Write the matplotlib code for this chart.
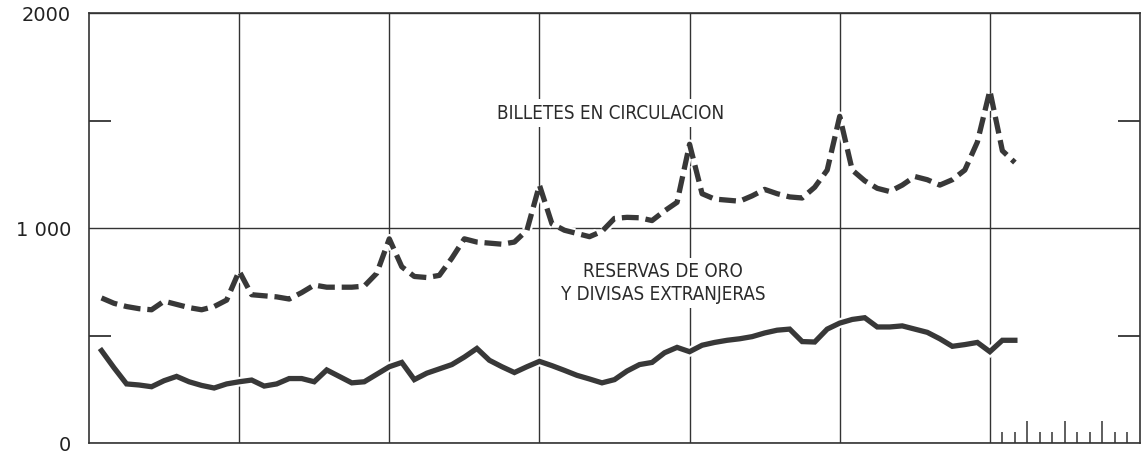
import numpy as np
import matplotlib
matplotlib.use("Agg")
import matplotlib.pyplot as plt
import matplotlib.patheffects as pe

# monthly values, months 1..74 (x axis in months, 7 years shown)
months = np.arange(1, 75)

billetes = [675, 650, 635, 625, 620, 660, 645, 630, 620, 635, 665, 800,
            690, 685, 680, 670, 700, 735, 725, 725, 725, 730, 790, 950,
            820, 775, 770, 780, 860, 950, 935, 930, 925, 935, 990, 1200,
            1020, 990, 975, 960, 985, 1045, 1050, 1048, 1035, 1080, 1120, 1390,
            1160, 1135, 1130, 1125, 1150, 1180, 1160, 1145, 1140, 1190, 1270, 1520,
            1270, 1220, 1185, 1170, 1200, 1240, 1225, 1200, 1225, 1270, 1400, 1640,
            1360, 1305]

reservas = [430, 350, 275, 270, 262, 290, 310, 285, 268, 256, 275, 285,
            293, 265, 275, 300, 300, 285, 340, 310, 280, 285, 320, 355,
            375, 295, 325, 345, 365, 400, 440, 385, 355, 328, 355, 380,
            360, 338, 315, 298, 280, 295, 335, 365, 375, 420, 445, 425,
            455, 468, 478, 485, 495, 512, 525, 530, 472, 470, 530, 558,
            575, 583, 540, 540, 545, 530, 515, 485, 450, 458, 468, 425,
            478, 478]

year_ends = [12, 24, 36, 48, 60, 72]
y_labels = ["0", "1 000", "2000"]
month_ticks = [73, 74, 76, 77, 79, 80, 82, 83]
quarter_ticks = [75, 78, 81]

ink = "#383838"
halo = [pe.withStroke(linewidth=7, foreground="white")]

fig = plt.figure(figsize=(11.44, 4.53), dpi=100)
ax = fig.add_axes([0.0778, 0.022, 0.9187, 0.949])

ax.plot(months, billetes, color=ink, lw=3.8, dashes=(3.2, 1.3),
        path_effects=halo, zorder=3)
ax.plot(months, reservas, color=ink, lw=3.8, solid_joinstyle="miter",
        path_effects=halo, zorder=3)

ax.set_xlim(0, 84)
ax.set_ylim(0, 2000)

ax.set_xticks(year_ends)
ax.set_xticks(month_ticks, minor=True)
ax.tick_params(axis="x", which="major", length=0, labelbottom=False)
ax.tick_params(axis="x", which="minor", direction="in", length=8,
               width=1.1, color="#333333")
sec = ax.secondary_xaxis("bottom")
sec.set_xticks(quarter_ticks)
sec.tick_params(direction="in", length=16, width=1.1, color="#333333",
                labelbottom=False)
sec.spines["bottom"].set_visible(False)

ax.set_yticks([0, 1000, 2000])
ax.set_yticklabels(y_labels)
ax.set_yticks([500, 1500], minor=True)
ax.tick_params(axis="y", which="major", length=0, pad=13, labelsize=14,
               labelcolor="#222222")
ax.tick_params(axis="y", which="minor", direction="in", length=16,
               width=1.3, left=True, right=True, color="#333333")

ax.grid(True, which="major", color="#333333", lw=1.0)
ax.set_axisbelow(True)
for s in ax.spines.values():
    s.set_color("#333333")
    s.set_linewidth(1.2)

lab_font = dict(family=["DejaVu Sans"], stretch="condensed",
                fontsize=13.5, color="#2b2b2b", ha="center", va="center",
                zorder=2)
ax.text(41.7, 1535, "BILLETES EN CIRCULACION",
        bbox=dict(facecolor="white", edgecolor="none", pad=3), **lab_font)
ax.text(45.9, 745, "RESERVAS DE ORO\nY DIVISAS EXTRANJERAS",
        linespacing=1.3,
        bbox=dict(facecolor="white", edgecolor="none", pad=3), **lab_font)

fig.savefig("out.png", dpi=100)
